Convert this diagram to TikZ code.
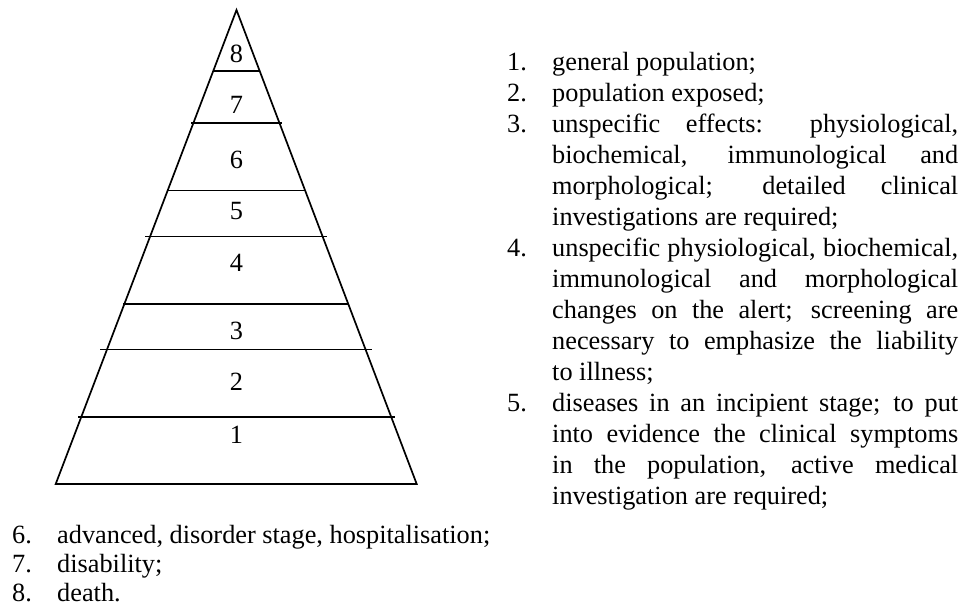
\documentclass[tikz,border=0pt]{standalone}
\usepackage{fontspec}
\setmainfont{Liberation Serif}
\usepackage{tikz}

\newcommand{\stageitem}[2]{\noindent\hangindent=45pt\hangafter=1\makebox[45pt][l]{#1.}#2\par}

\begin{document}
\begin{tikzpicture}[x=1pt, y=-1pt,
  font=\fontsize{26.3}{31}\selectfont,
  edge/.style={line width=1.7pt},
  tier/.style={line width=1.3pt},
  stage/.style={inner sep=0pt},
  legend/.style={anchor=north west, inner sep=0pt, align=justify, text width=#1,
                 execute at begin node={\tolerance=10000\hbadness=10000}}]
  \useasboundingbox (0,0) rectangle (967,609);
  \coordinate (top) at (236.5,10);
  \coordinate (bl)  at (55.7,484);
  \coordinate (br)  at (416.7,484);
  \draw[edge] (top) -- (bl) -- (br) -- cycle;
  \foreach \y/\a/\b in {71/213/260, 123/191/282, 190.5/168/305, 236.5/145/327,
                        304/123/349, 349.5/100/372, 417/78/395}
    {\draw[tier] (\a,\y) -- (\b,\y);}
  \foreach \n/\y in {8/54, 7/105, 6/160, 5/211.5, 4/263, 3/330.5, 2/381.5, 1/435}
    {\node[stage] (s\n) at (236.5,\y) {\n};}
  \node[legend=451pt] (stages) at (507,52) {%
    \stageitem{1}{general population;}
    \stageitem{2}{population exposed;}
    \stageitem{3}{unspecific effects: physiological, \linebreak biochemical, immunological and \linebreak morphological; detailed clinical \linebreak investigations are required;}
    \stageitem{4}{unspecific physiological, biochemical, \linebreak immunological and morphological \linebreak changes on the alert; screening are \linebreak necessary to emphasize the liability \linebreak to illness;}
    \stageitem{5}{diseases in an incipient stage; to put \linebreak into evidence the clinical symptoms \linebreak in the population, active medical \linebreak investigation are required;}};
  \node[legend=600pt, font=\fontsize{26.3}{29}\selectfont] (outcomes) at (12,525) {%
    \stageitem{6}{advanced, disorder stage, hospitalisation;}
    \stageitem{7}{disability;}
    \stageitem{8}{death.}};
\end{tikzpicture}
\end{document}
